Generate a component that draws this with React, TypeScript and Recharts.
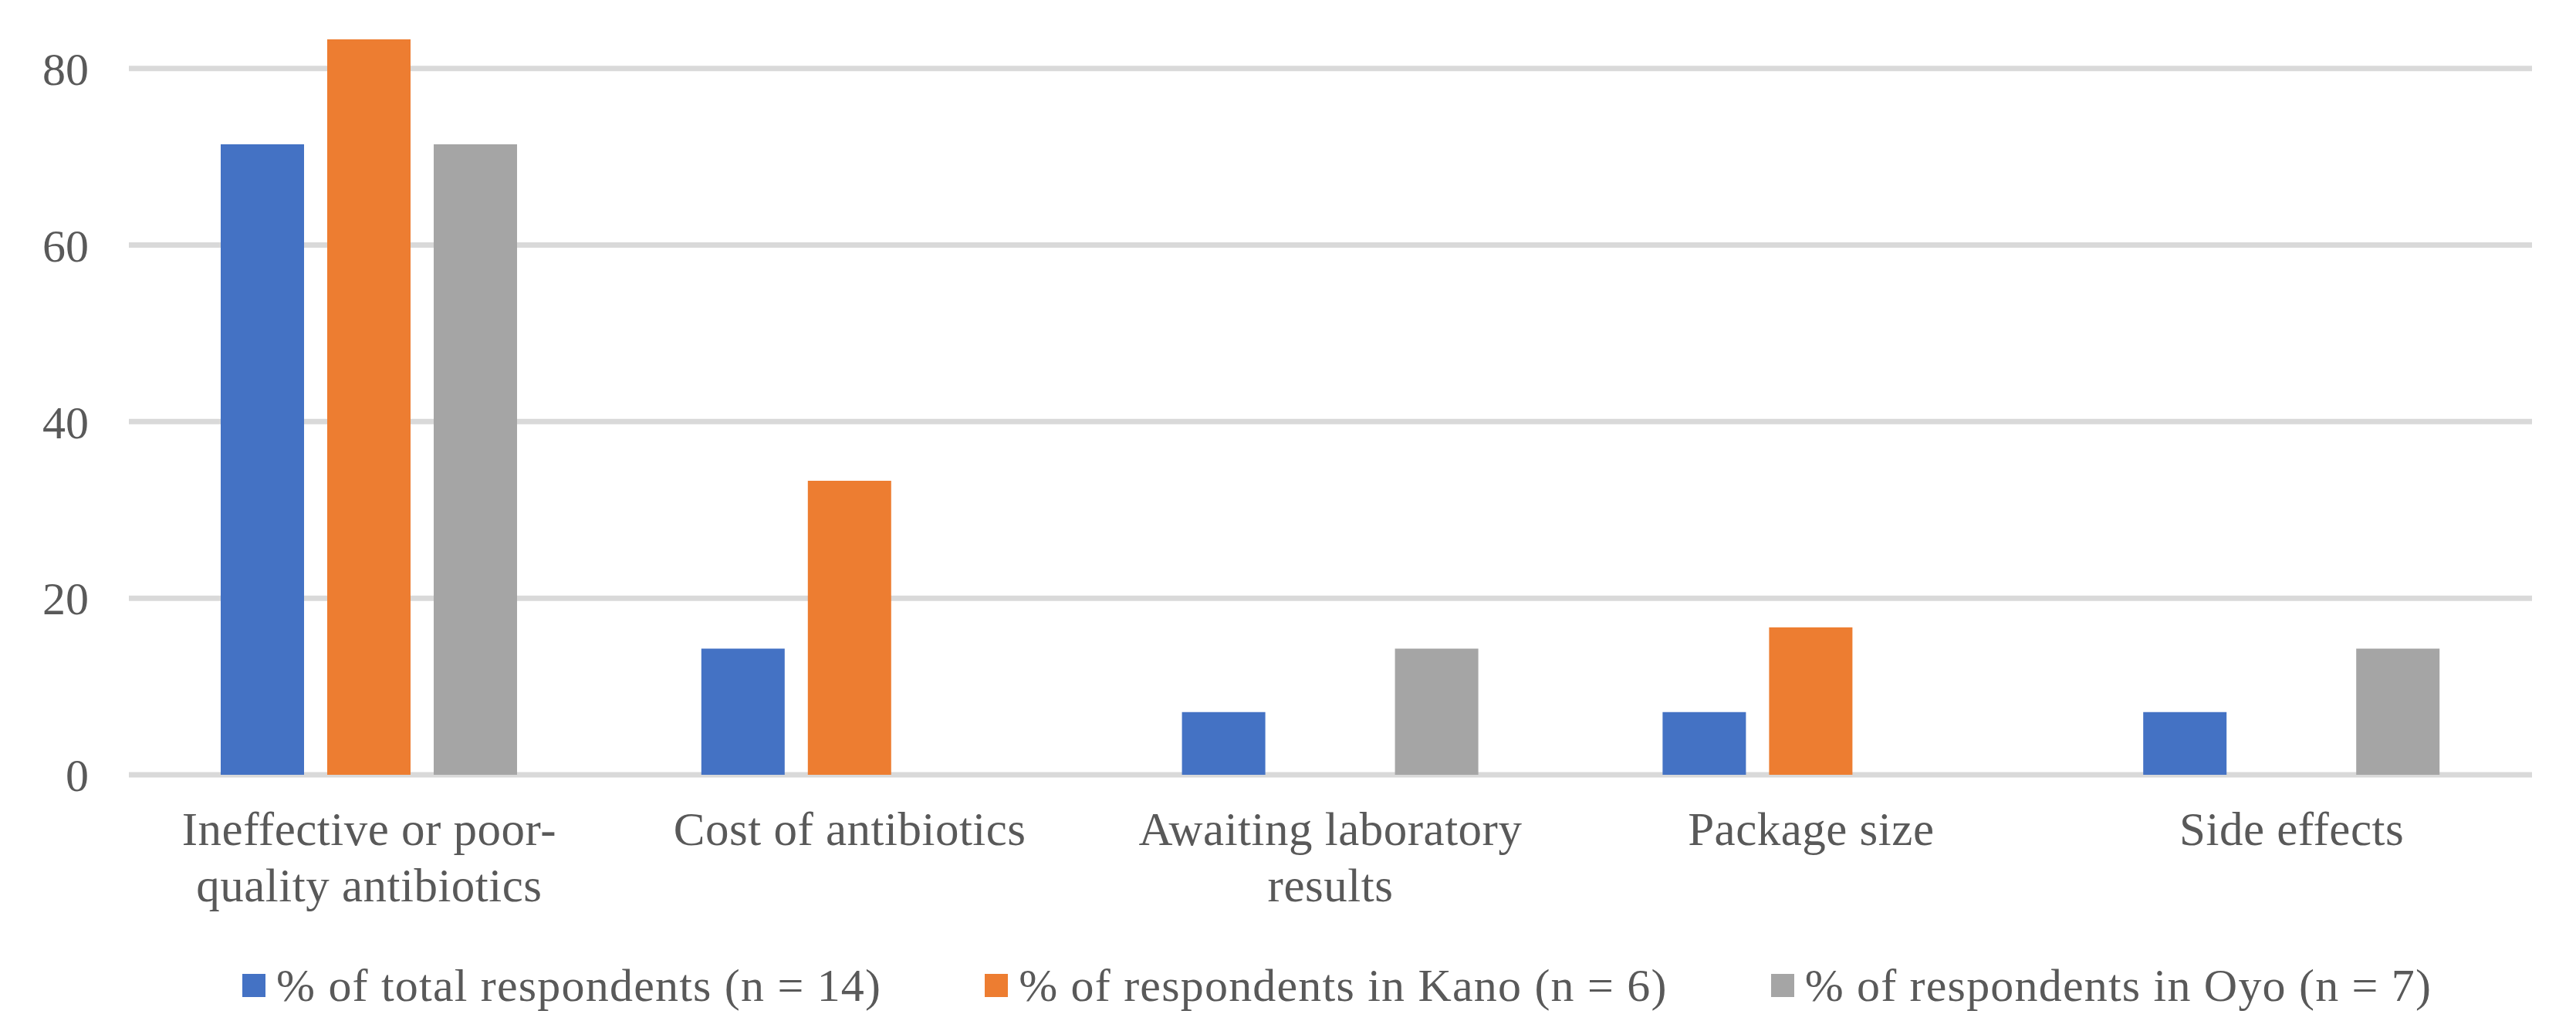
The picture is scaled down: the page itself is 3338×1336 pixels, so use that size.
import { Bar, BarChart, CartesianGrid, Legend, XAxis, YAxis } from "recharts";

const categories = [
  "Ineffective or poor-quality antibiotics",
  "Cost of antibiotics",
  "Awaiting laboratory results",
  "Package size",
  "Side effects",
];

// how each category label wraps under the axis
const categoryLines = [
  ["Ineffective or poor-", "quality antibiotics"],
  ["Cost of antibiotics"],
  ["Awaiting laboratory", "results"],
  ["Package size"],
  ["Side effects"],
];

const totalPct = [71.4, 14.3, 7.1, 7.1, 7.1];
const kanoPct = [83.3, 33.3, 0, 16.7, 0];
const oyoPct = [71.4, 0, 14.3, 0, 14.3];

const yTicks = [0, 20, 40, 60, 80];

const series = [
  { key: "total", name: "% of total respondents (n = 14)", color: "#4472C4" },
  { key: "kano", name: "% of respondents in Kano (n = 6)", color: "#ED7D31" },
  { key: "oyo", name: "% of respondents in Oyo (n = 7)", color: "#A5A5A5" },
];

const data = categories.map((name, i) => ({
  name,
  total: totalPct[i],
  kano: kanoPct[i],
  oyo: oyoPct[i],
}));

const FONT = '"Liberation Serif", "Times New Roman", serif';
const TEXT = "#595959";

function CategoryTick({ x, y, payload }: any) {
  const lines = categoryLines[payload.index] ?? [payload.value];
  return (
    <text
      x={x}
      y={y}
      textAnchor="middle"
      fill={TEXT}
      fontFamily={FONT}
      fontSize={61}
      letterSpacing={0.5}
    >
      {lines.map((line: string, i: number) => (
        <tspan key={i} x={x} y={y + 91 + i * 73}>
          {line}
        </tspan>
      ))}
    </text>
  );
}

function LegendContent() {
  return (
    <div
      style={{
        display: "flex",
        alignItems: "center",
        paddingLeft: 314,
        fontFamily: FONT,
        fontSize: 60,
        letterSpacing: 1.2,
        lineHeight: "64px",
        color: TEXT,
        whiteSpace: "nowrap",
      }}
    >
      {series.map((s) => (
        <div
          key={s.key}
          style={{ display: "flex", alignItems: "center", marginRight: 134 }}
        >
          <span
            style={{
              display: "inline-block",
              width: 30,
              height: 30,
              background: s.color,
              marginRight: 14,
            }}
          />
          <span>{s.name}</span>
        </div>
      ))}
    </div>
  );
}

export default function App() {
  return (
    <div style={{ width: 3338, height: 1336, background: "#fff" }}>
      <style>{"body{margin:0;}"}</style>
      <BarChart
        width={3338}
        height={1336}
        data={data}
        margin={{ top: 20, right: 57, bottom: 302, left: 0 }}
        barGap={30}
        barSize={108}
      >
        <CartesianGrid
          vertical={false}
          stroke="#d9d9d9"
          strokeWidth={7}
          syncWithTicks
        />
        <XAxis
          dataKey="name"
          height={30}
          axisLine={false}
          tickLine={false}
          tickSize={0}
          tickMargin={0}
          interval={0}
          tick={<CategoryTick />}
        />
        <YAxis
          width={167}
          domain={[0, 86]}
          ticks={yTicks}
          axisLine={false}
          tickLine={false}
          tickSize={0}
          tickMargin={52}
          tick={{ fill: TEXT, fontSize: 60, fontFamily: FONT }}
        />
        <Legend
          layout="horizontal"
          verticalAlign="middle"
          align="center"
          wrapperStyle={{ top: 1245, left: 0, width: 3338 }}
          content={<LegendContent />}
        />
        {series.map((s) => (
          <Bar
            key={s.key}
            dataKey={s.key}
            name={s.name}
            fill={s.color}
            isAnimationActive={false}
          />
        ))}
      </BarChart>
    </div>
  );
}
